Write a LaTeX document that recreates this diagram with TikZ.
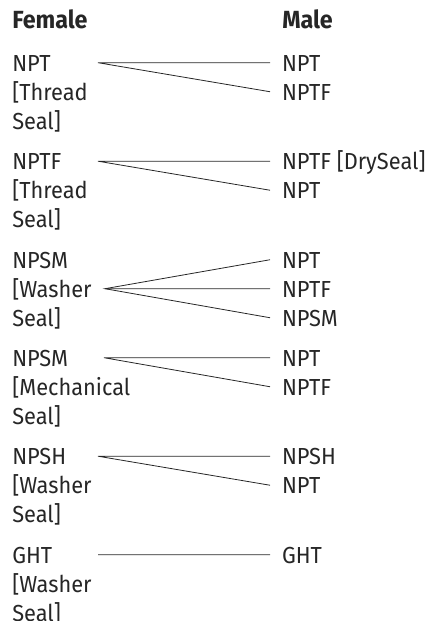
\documentclass[tikz,border=0pt]{standalone}
\usepackage{fontspec}
\setmainfont{Fira Sans}[FakeStretch=0.94]
\usepackage{tikz}
\definecolor{inkgray}{HTML}{262626}

\begin{document}
\begin{tikzpicture}[x=0.75pt,y=-0.75pt,
  head/.style={anchor=base west,inner sep=0pt,text=inkgray,
               font=\fontsize{18.6}{21.75}\selectfont\bfseries},
  female/.style={anchor=base west,align=left,inner sep=0pt,text=inkgray,
                 font=\fontsize{17.4}{21.75}\selectfont},
  male/.style={anchor=base west,inner sep=0pt,outer xsep=9pt,
               text height=12.4pt,text depth=0pt,text=inkgray,
               font=\fontsize{17.4}{21.75}\selectfont},
  link/.style={draw=inkgray,line width=0.6pt}
]
\useasboundingbox (0,0) rectangle (432,621);

% column heads
\node[head] (hf) at (12,28) {Female};
\node[head] (hm) at (282,28) {Male};

% female side (placed by the baseline of the last line)
\node[female] (f1) at (12,129)   {NPT\\{[}Thread\\Seal]};
\node[female] (f2) at (12,227.5) {NPTF\\{[}Thread\\Seal]};
\node[female] (f3) at (12,326)   {NPSM\\{[}Washer\\Seal]};
\node[female] (f4) at (12,424)   {NPSM\\{[}Mechanical\\Seal]};
\node[female] (f5) at (12,522.5) {NPSH\\{[}Washer\\Seal]};
\node[female] (f6) at (12,621)   {GHT\\{[}Washer\\Seal]};

\coordinate (s1) at (98,62.7);
\coordinate (s2) at (98,161.2);
\coordinate (s3) at (105,288.7);
\coordinate (s4) at (104,357.7);
\coordinate (s5) at (98,456.2);
\coordinate (s6) at (98,554.7);

% male side
\node[male] (m1a) at (270,71)    {NPT};
\node[male] (m1b) at (270,100)   {NPTF};
\node[male] (m2a) at (270,169.5) {NPTF [DrySeal]};
\node[male] (m2b) at (270,198.5) {NPT};
\node[male] (m3a) at (270,268)   {NPT};
\node[male] (m3b) at (270,297)   {NPTF};
\node[male] (m3c) at (270,326)   {NPSM};
\node[male] (m4a) at (270,366)   {NPT};
\node[male] (m4b) at (270,395)   {NPTF};
\node[male] (m5a) at (270,464.5) {NPSH};
\node[male] (m5b) at (270,493.5) {NPT};
\node[male] (m6a) at (270,563)   {GHT};

% links
\draw[link] (m1a.west) -- (s1) -- (m1b.west);
\draw[link] (m2a.west) -- (s2) -- (m2b.west);
\draw[link] (m3a.west) -- (s3) -- (m3c.west);
\draw[link] (s3) -- (m3b.west);
\draw[link] (m4a.west) -- (s4) -- (m4b.west);
\draw[link] (m5a.west) -- (s5) -- (m5b.west);
\draw[link] (s6) -- (m6a.west);
\end{tikzpicture}
\end{document}
